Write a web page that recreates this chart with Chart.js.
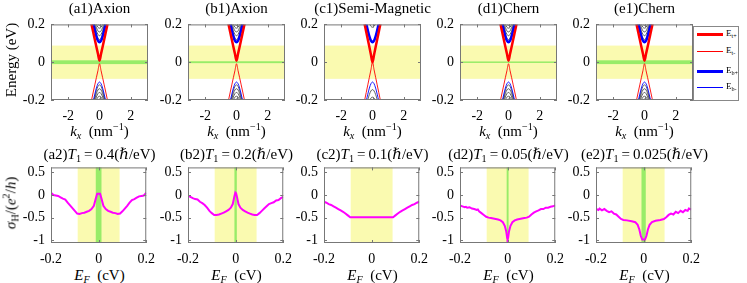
<!DOCTYPE html>
<html>
<head>
<meta charset="utf-8">
<script src="https://cdn.jsdelivr.net/npm/chart.js@4/dist/chart.umd.min.js"></script>
<style>
  body { margin: 0; background: #fff; }
  #fig { position: relative; width: 747px; height: 283px; overflow: hidden; font-family: 'Liberation Serif', 'DejaVu Serif', serif; color: #000; }
  #fig canvas { position: absolute; }
  .lbl { position: absolute; white-space: nowrap; font-size: 15px; line-height: 1; transform: translate(-50%, -50%); }
  .rot { transform: translate(-50%, -50%) rotate(-90deg); }
  sub, sup { font-size: 68%; line-height: 0; }
  sub { vertical-align: -0.3em; }
  sup { vertical-align: 0.55em; }
  #legend { position: absolute; left: 693px; top: 26px; width: 44px; height: 73px; border: 1px solid #888; background: #fff; }
  .item { position: absolute; left: 0; height: 10px; width: 44px; }
  .item span.ln { position: absolute; left: 3px; width: 26px; top: 50%; }
  .item span.tx { position: absolute; left: 32px; top: -1px; font-size: 9px; line-height: 10px; }
</style>
</head>
<body>
<div id="fig">
  <canvas id="a1" width="157" height="112"></canvas>
  <canvas id="b1" width="157" height="112"></canvas>
  <canvas id="c1" width="157" height="112"></canvas>
  <canvas id="d1" width="157" height="112"></canvas>
  <canvas id="e1" width="157" height="112"></canvas>
  <canvas id="a2" width="157" height="112"></canvas>
  <canvas id="b2" width="157" height="112"></canvas>
  <canvas id="c2" width="157" height="112"></canvas>
  <canvas id="d2" width="157" height="112"></canvas>
  <canvas id="e2" width="157" height="112"></canvas>
  <div id="legend"></div>
</div>
<script>
// ---- data ----
// band structure, top row (k in nm^-1, energy in eV)
const kx = [-0.6, -0.5, -0.4, -0.3, -0.2, -0.1, 0, 0.1, 0.2, 0.3, 0.4, 0.5, 0.6]
const Etp = [0.236, 0.197, 0.158, 0.12, 0.082, 0.045, 0.008, 0.045, 0.082, 0.12, 0.158, 0.197, 0.236]
const Etm = [-0.236, -0.197, -0.158, -0.12, -0.082, -0.045, -0.008, -0.045, -0.082, -0.12, -0.158, -0.197, -0.236]
const Ebp = [0.284, 0.244, 0.205, 0.169, 0.137, 0.114, 0.105, 0.114, 0.137, 0.169, 0.205, 0.244, 0.284]
const Ebm = [-0.284, -0.244, -0.205, -0.169, -0.137, -0.114, -0.105, -0.114, -0.137, -0.169, -0.205, -0.244, -0.284]
const grayUp = [
  [0.295, 0.255, 0.216, 0.181, 0.15, 0.128, 0.12, 0.128, 0.15, 0.181, 0.216, 0.255, 0.295],
  [0.304, 0.265, 0.228, 0.194, 0.166, 0.147, 0.14, 0.147, 0.166, 0.194, 0.228, 0.265, 0.304],
  [0.313, 0.276, 0.241, 0.209, 0.184, 0.166, 0.16, 0.166, 0.184, 0.209, 0.241, 0.276, 0.313],
  [0.324, 0.288, 0.255, 0.223, 0.201, 0.185, 0.18, 0.185, 0.201, 0.223, 0.255, 0.288, 0.324],
  [0.33, 0.297, 0.265, 0.235, 0.215, 0.2, 0.195, 0.2, 0.215, 0.235, 0.265, 0.297, 0.33]
]
const grayDn = [
  [-0.295, -0.255, -0.216, -0.181, -0.15, -0.128, -0.12, -0.128, -0.15, -0.181, -0.216, -0.255, -0.295],
  [-0.304, -0.265, -0.228, -0.194, -0.166, -0.147, -0.14, -0.147, -0.166, -0.194, -0.228, -0.265, -0.304],
  [-0.313, -0.276, -0.241, -0.209, -0.184, -0.166, -0.16, -0.166, -0.184, -0.209, -0.241, -0.276, -0.313],
  [-0.324, -0.288, -0.255, -0.223, -0.201, -0.185, -0.18, -0.185, -0.201, -0.223, -0.255, -0.288, -0.324],
  [-0.33, -0.297, -0.265, -0.235, -0.215, -0.2, -0.195, -0.2, -0.215, -0.235, -0.265, -0.297, -0.33]
]
// semi-magnetic panel (c1)
const semiEtp = [0.24, 0.2, 0.16, 0.12, 0.08, 0.04, 0, 0.04, 0.08, 0.12, 0.16, 0.2, 0.24]
const semiEtm = [-0.24, -0.2, -0.16, -0.12, -0.08, -0.04, 0, -0.04, -0.08, -0.12, -0.16, -0.2, -0.24]
const semiGrayUp = [
  [0.327, 0.291, 0.258, 0.227, 0.206, 0.19, 0.185, 0.19, 0.206, 0.227, 0.258, 0.291, 0.327]
]
const semiGrayDn = [
  [-0.306, -0.267, -0.231, -0.198, -0.171, -0.152, -0.145, -0.152, -0.171, -0.198, -0.231, -0.267, -0.306],
  [-0.327, -0.291, -0.258, -0.227, -0.206, -0.19, -0.185, -0.19, -0.206, -0.227, -0.258, -0.291, -0.327]
]

// Hall conductance, bottom row (E_F in eV, sigma_H in e^2/h)
const efA2 = [-0.2, -0.195, -0.19, -0.18, -0.17, -0.16, -0.15, -0.14, -0.13, -0.12, -0.11, -0.1, -0.09, -0.08, -0.07, -0.06, -0.05, -0.04, -0.03, -0.02, -0.012, -0.006, 0, 0.006, 0.012, 0.02, 0.03, 0.04, 0.05, 0.06, 0.07, 0.08, 0.09, 0.1, 0.11, 0.12, 0.13, 0.14, 0.15, 0.16, 0.17, 0.18, 0.19, 0.195, 0.2]
const sigA2 = [0.05, 0.03, 0.0, -0.01, -0.02, -0.05, -0.08, -0.1, -0.17, -0.23, -0.29, -0.35, -0.41, -0.42, -0.4, -0.39, -0.37, -0.35, -0.31, -0.24, -0.08, 0.03, 0.03, 0.03, -0.08, -0.24, -0.31, -0.35, -0.37, -0.39, -0.4, -0.42, -0.41, -0.36, -0.3, -0.24, -0.17, -0.11, -0.09, -0.06, -0.03, -0.02, -0.01, 0.02, 0.05]
const efB2 = [-0.2, -0.19, -0.18, -0.17, -0.16, -0.15, -0.14, -0.13, -0.12, -0.11, -0.1, -0.09, -0.08, -0.07, -0.06, -0.05, -0.04, -0.03, -0.02, -0.012, -0.006, -0.002, 0, 0.002, 0.006, 0.012, 0.02, 0.03, 0.04, 0.05, 0.06, 0.07, 0.08, 0.09, 0.1, 0.11, 0.12, 0.13, 0.14, 0.15, 0.16, 0.17, 0.18, 0.19, 0.2]
const sigB2 = [-0.02, -0.04, -0.07, -0.09, -0.1, -0.15, -0.18, -0.22, -0.28, -0.35, -0.4, -0.44, -0.44, -0.43, -0.41, -0.39, -0.36, -0.33, -0.28, -0.2, -0.05, 0.04, 0.05, 0.04, -0.05, -0.2, -0.28, -0.33, -0.36, -0.39, -0.41, -0.43, -0.44, -0.44, -0.4, -0.35, -0.3, -0.25, -0.2, -0.18, -0.16, -0.12, -0.11, -0.07, -0.04]
const efC2 = [-0.2, -0.19, -0.18, -0.17, -0.16, -0.15, -0.14, -0.13, -0.12, -0.11, -0.1, -0.09, 0.09, 0.1, 0.11, 0.12, 0.13, 0.14, 0.15, 0.16, 0.17, 0.18, 0.19, 0.2]
const sigC2 = [-0.15, -0.17, -0.2, -0.22, -0.25, -0.28, -0.31, -0.34, -0.37, -0.41, -0.45, -0.49, -0.49, -0.45, -0.41, -0.37, -0.34, -0.31, -0.28, -0.25, -0.22, -0.2, -0.17, -0.15]
const efD2 = [-0.2, -0.19, -0.18, -0.175, -0.17, -0.16, -0.15, -0.14, -0.13, -0.125, -0.12, -0.11, -0.1, -0.09, -0.08, -0.07, -0.06, -0.05, -0.04, -0.03, -0.02, -0.012, -0.006, -0.002, 0, 0.002, 0.006, 0.012, 0.02, 0.03, 0.04, 0.05, 0.06, 0.07, 0.08, 0.09, 0.1, 0.11, 0.12, 0.13, 0.14, 0.15, 0.16, 0.17, 0.18, 0.19, 0.2]
const sigD2 = [-0.23, -0.25, -0.27, -0.26, -0.28, -0.27, -0.3, -0.31, -0.33, -0.32, -0.36, -0.4, -0.44, -0.48, -0.5, -0.51, -0.52, -0.53, -0.54, -0.56, -0.6, -0.68, -0.8, -0.95, -0.98, -0.95, -0.8, -0.68, -0.6, -0.56, -0.54, -0.53, -0.52, -0.51, -0.5, -0.48, -0.43, -0.39, -0.36, -0.34, -0.31, -0.31, -0.28, -0.28, -0.26, -0.25, -0.23]
const efE2 = [-0.2, -0.19, -0.185, -0.175, -0.165, -0.155, -0.145, -0.135, -0.125, -0.115, -0.105, -0.095, -0.085, -0.07, -0.05, -0.035, -0.025, -0.018, -0.012, -0.006, 0, 0.006, 0.012, 0.018, 0.025, 0.035, 0.05, 0.07, 0.085, 0.095, 0.105, 0.115, 0.125, 0.135, 0.145, 0.155, 0.165, 0.175, 0.185, 0.19, 0.2]
const sigE2 = [-0.31, -0.33, -0.3, -0.34, -0.31, -0.35, -0.38, -0.36, -0.41, -0.43, -0.48, -0.53, -0.55, -0.56, -0.58, -0.6, -0.66, -0.76, -0.9, -0.98, -0.98, -0.98, -0.9, -0.76, -0.66, -0.6, -0.57, -0.55, -0.53, -0.49, -0.44, -0.41, -0.43, -0.37, -0.4, -0.35, -0.38, -0.33, -0.35, -0.3, -0.32]

// axes, ticks and shaded windows
const topXTicks = [-2, 0, 2]
const topYTicks = [-0.2, 0, 0.2]
const botXTicks = [-0.2, 0, 0.2]
const botYTicks = [-1, -0.5, 0, 0.5]
const yellowBand = [-0.088, 0.088]
const greenTop = [0.01, 0.005, 0, 0.004, 0.01]
const greenBot = [0.012, 0.005, 0, 0.004, 0.009]
const topTitles = ['(a1)Axion', '(b1)Axion', '(c1)Semi-Magnetic', '(d1)Chern', '(e1)Chern']
const botLetters = ['a2', 'b2', 'c2', 'd2', 'e2']
const botT1 = ['0.4', '0.2', '0.1', '0.05', '0.025']
const legendNames = ['t+', 't-', 'b+', 'b-']

// ---- layout ----
const plotLeft = [51, 188, 324, 460, 596]
const plotW = 97
const topRow = 20, botRow = 163, plotH = 80
const YELLOW = 'rgb(250,250,176)'
const GREEN = 'rgb(152,236,104)'

const shadePlugin = {
  id: 'shade',
  beforeDatasetsDraw(chart, args, opts) {
    const { ctx, chartArea: a } = chart
    const x = chart.scales.x, y = chart.scales.y
    ctx.save()
    if (opts.vertical) {
      let x0 = x.getPixelForValue(yellowBand[0]), x1 = x.getPixelForValue(yellowBand[1])
      ctx.fillStyle = YELLOW
      ctx.fillRect(x0, a.top, x1 - x0, a.bottom - a.top)
      if (opts.green > 0) {
        x0 = x.getPixelForValue(-opts.green); x1 = x.getPixelForValue(opts.green)
        ctx.fillStyle = GREEN
        ctx.fillRect(x0, a.top, x1 - x0, a.bottom - a.top)
      }
    } else {
      let y0 = y.getPixelForValue(yellowBand[1]), y1 = y.getPixelForValue(yellowBand[0])
      ctx.fillStyle = YELLOW
      ctx.fillRect(a.left, y0, a.right - a.left, y1 - y0)
      if (opts.green > 0) {
        y0 = y.getPixelForValue(opts.green); y1 = y.getPixelForValue(-opts.green)
        ctx.fillStyle = GREEN
        ctx.fillRect(a.left, y0, a.right - a.left, y1 - y0)
      }
    }
    ctx.restore()
  },
  afterDatasetsDraw(chart) {
    // matlab style box with inward ticks
    const { ctx, chartArea: a } = chart
    const x = chart.scales.x, y = chart.scales.y
    ctx.save()
    ctx.strokeStyle = '#777'
    ctx.lineWidth = 1
    ctx.strokeRect(a.left + 0.5, a.top + 0.5, a.right - a.left - 1, a.bottom - a.top - 1)
    ctx.beginPath()
    x.ticks.forEach(t => {
      const px = Math.round(x.getPixelForValue(t.value)) + 0.5
      ctx.moveTo(px, a.bottom); ctx.lineTo(px, a.bottom - 3)
      ctx.moveTo(px, a.top); ctx.lineTo(px, a.top + 3)
    })
    y.ticks.forEach(t => {
      const py = Math.round(y.getPixelForValue(t.value)) + 0.5
      ctx.moveTo(a.left, py); ctx.lineTo(a.left + 3, py)
      ctx.moveTo(a.right, py); ctx.lineTo(a.right - 3, py)
    })
    ctx.stroke()
    ctx.restore()
  }
}

var tickFont = { family: 'Liberation Serif', size: 14 }

var makePanel = (id, idx, top, xr, yr, xt, yt, datasets, shade) => {
  const cv = document.getElementById(id)
  cv.style.left = (plotLeft[idx] - 45) + 'px'
  cv.style.top = (top - 10) + 'px'
  return new Chart(cv, {
    type: 'line',
    data: { datasets: datasets },
    options: {
      responsive: false,
      animation: false,
      devicePixelRatio: 1,
      layout: { padding: { top: 10, right: 15, left: 0, bottom: 0 } },
      plugins: { legend: { display: false }, tooltip: { enabled: false }, shade: shade },
      scales: {
        x: {
          type: 'linear', min: xr[0], max: xr[1],
          grid: { display: false, drawTicks: false }, border: { display: false },
          afterBuildTicks: s => { s.ticks = xt.map(v => ({ value: v })) },
          afterFit: s => { s.height = 22 },
          ticks: { font: tickFont, color: '#000', padding: 8, maxRotation: 0, autoSkip: false, callback: v => String(v) }
        },
        y: {
          type: 'linear', min: yr[0], max: yr[1],
          grid: { display: false, drawTicks: false }, border: { display: false },
          afterBuildTicks: s => { s.ticks = yt.map(v => ({ value: v })) },
          afterFit: s => { s.width = 45 },
          ticks: { font: tickFont, color: '#000', padding: 6, autoSkip: false, callback: v => String(v) }
        }
      }
    },
    plugins: [shadePlugin]
  })
}

var curve = (xs, ys, color, width) => ({
  data: xs.map((v, i) => ({ x: v, y: ys[i] })),
  borderColor: color,
  borderWidth: width,
  pointRadius: 0,
  cubicInterpolationMode: 'monotone',
  clip: 0
})

var bandSets = (up, dn, tp, tm) => {
  let sets = [
    curve(kx, tp, '#ff0000', 2.5),
    curve(kx, Ebp, '#0000ff', 2.5),
    curve(kx, tm, '#ff0000', 0.9),
    curve(kx, Ebm, '#0000ff', 0.9)
  ]
  up.concat(dn).forEach(g => sets.push(curve(kx, g, '#3a3a3a', 0.8)))
  return sets
}

const panels = ['a1', 'b1', 'c1', 'd1', 'e1']
panels.forEach((id, i) => {
  const semi = id === 'c1'
  const sets = semi ? bandSets(semiGrayUp, semiGrayDn, semiEtp, semiEtm) : bandSets(grayUp, grayDn, Etp, Etm)
  makePanel(id, i, topRow, [-3.1, 3.1], [-0.2, 0.2], topXTicks, topYTicks, sets, { vertical: false, green: greenTop[i] })
})

const hallE = [efA2, efB2, efC2, efD2, efE2]
const hallS = [sigA2, sigB2, sigC2, sigD2, sigE2]
botLetters.forEach((id, i) => {
  const ds = {
    data: hallE[i].map((v, j) => ({ x: v, y: hallS[i][j] })),
    borderColor: '#ff00ff', borderWidth: 2, pointRadius: 0, tension: 0
  }
  makePanel(id, i, botRow, [-0.2, 0.2], [-1.06, 0.61], botXTicks, botYTicks, [ds], { vertical: true, green: greenBot[i] })
})

// ---- text ----
const fig = document.getElementById('fig')
var addLabel = (html, cx, cy, rotate) => {
  const d = document.createElement('div')
  d.className = rotate ? 'lbl rot' : 'lbl'
  d.innerHTML = html
  d.style.left = cx + 'px'
  d.style.top = cy + 'px'
  fig.appendChild(d)
}

plotLeft.forEach((l, i) => {
  const cx = l + plotW / 2
  addLabel(topTitles[i], cx, 8)
  addLabel('<i>k<sub>x</sub></i>&nbsp;&nbsp;(nm<sup>&minus;1</sup>)', cx, 131)
  addLabel('(' + botLetters[i] + ')<i>T</i><sub>1</sub>&thinsp;=&thinsp;' + botT1[i] + '(<i>&#x210F;</i>/eV)', cx, 154)
  addLabel('<i>E<sub>F</sub></i>&nbsp;&nbsp;(cV)', cx, 275)
})
addLabel('Energy (eV)', 11, 60, true)
addLabel('<i>&sigma;</i><sub>H</sub>/(<i>e</i><sup>2</sup>/<i>h</i>)', 11, 203, true)

// legend box
const legendY = [7, 24, 44, 60]
const legendStyle = ['3px solid #ff0000', '1px solid #ff0000', '3px solid #0000ff', '1px solid #0000ff']
const lg = document.getElementById('legend')
legendNames.forEach((n, i) => {
  const it = document.createElement('div')
  it.className = 'item'
  it.style.top = (legendY[i] - 5) + 'px'
  it.innerHTML = '<span class="ln" style="border-top:' + legendStyle[i] + ';margin-top:-' + (i % 2 === 0 ? 1 : 0) + 'px"></span><span class="tx">E<sub>' + n + '</sub></span>'
  lg.appendChild(it)
})
</script>
</body>
</html>
